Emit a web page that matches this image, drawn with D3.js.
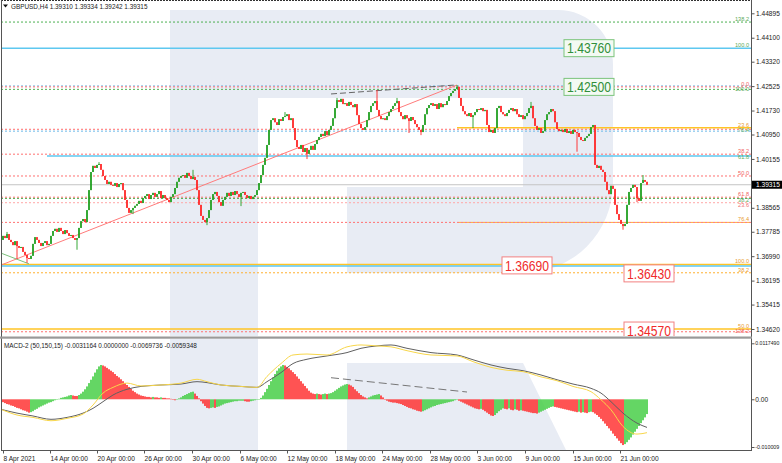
<!DOCTYPE html>
<html><head><meta charset="utf-8">
<script src="https://cdn.jsdelivr.net/npm/d3@7/dist/d3.min.js"></script>
<style>
html,body{margin:0;padding:0;background:#fff;}
svg{display:block;font-family:"Liberation Sans",Arial,sans-serif;}
</style>
</head><body>
<svg id="chart" width="782" height="463"></svg>
<script>
// ---------------- DATA ----------------
const symbolTitle = "GBPUSD,H4  1.39310 1.39334 1.39242 1.39315";
const macdTitle = "MACD-2 (50,150,15) -0.0031164 0.0000000 -0.0069736 -0.0059348";

// H4 closes, one per bar (open = previous close)
const closes = [
1.3752,1.3765,1.3758,1.3771,1.3752, 1.3745,1.3735,1.3748,1.3732,1.3726,
1.3729,1.3713,1.3703,1.3693,1.3690, 1.3700, 1.3739,1.3761,1.3752,1.3742,
1.3732,1.3742,1.3748,1.3735,1.3739, 1.3765,1.3781,1.3788,1.3778,1.3791,
1.3781,1.3771,1.3784,1.3774,1.3765, 1.3768,1.3758,1.3752,1.3758,
1.3791,1.3813,1.3820,1.3810, 1.3849,1.3914,1.3973,1.3993,
1.3986,1.3996,1.3999,1.3980, 1.3960,1.3947,1.3934,1.3941,1.3931,
1.3928,1.3937,1.3924,1.3934,1.3937, 1.3914,1.3882,1.3856, 1.3840,1.3849,1.3856,
1.3863,1.3869,1.3879,1.3872,1.3888, 1.3895,1.3901,1.3885,1.3898,1.3905,
1.3892,1.3901,1.3911,1.3888,1.3898, 1.3888,1.3882,1.3875,1.3892,1.3901,1.3921,
1.3941,1.3954,1.3960, 1.3963,1.3954,1.3970,1.3960,1.3950,1.3957,1.3947,
1.3914,1.3866,1.3830,1.3817, 1.3810,1.3823, 1.3849,1.3882,1.3901,1.3908,
1.3895,1.3875,1.3863,1.3882,1.3892,
1.3905,1.3895,1.3908,1.3898,1.3911,1.3901,1.3892,1.3905,1.3908,1.3898,1.3888,1.3895,1.3885,1.3892,1.3898,
1.3914,1.3937,1.3963,1.3996,1.4019, 1.4061,1.4110,1.4142,1.4148,
1.4135,1.4126,1.4145,1.4139,1.4152,1.4155,1.4161,1.4142,1.4148,
1.4116,1.4077,1.4054, 1.4048,1.4061,1.4038,1.4051,1.4032,1.4045,1.4058,1.4045,1.4064,
1.4077,1.4087,1.4097,1.4090,1.4106, 1.4093,1.4110,1.4123,1.4148,
1.4181,1.4207,1.4201,1.4211, 1.4194,1.4197,1.4188,1.4201,1.4191,1.4184,1.4194,
1.4158,1.4129,1.4116,1.4110,1.4119, 1.4142,1.4168,1.4188,1.4197,1.4204,
1.4175,1.4155,1.4145,1.4148,1.4142, 1.4155,1.4168,1.4178,1.4188,1.4197,1.4204,
1.4168,1.4155,1.4145,1.4158,1.4148,1.4139,1.4152,1.4142, 1.4129,1.4119,1.4110,1.4103,
1.4126,1.4161,1.4181,1.4191,1.4197, 1.4188,1.4194,1.4178,1.4197,1.4184,1.4194,1.4191,1.4204,
1.4220,1.4230,1.4237,1.4243,1.4250, 1.4214,1.4188,1.4171,
1.4161,1.4155,1.4165,1.4152,1.4158, 1.4168,1.4178,1.4175,1.4181,1.4171,1.4175,
1.4126,1.4103,1.4110, 1.4100,1.4116, 1.4181,1.4188,
1.4168,1.4161,1.4155,1.4165, 1.4175,1.4181,1.4171,1.4178,
1.4161,1.4152,1.4158,1.4145,1.4155,1.4165,1.4181, 1.4188,
1.4148,1.4123,1.4110,1.4116,1.4100,1.4106, 1.4142,1.4161,1.4168,1.4178,1.4171,
1.4135,1.4113,1.4106, 1.4110,1.4103,1.4113,1.4100,1.4106,1.4097,1.4110,1.4103,1.4100,
1.4087,1.4077,1.4074,1.4084,1.4090,1.4097, 1.4119,1.4126, 1.3996,
1.3986,1.3993,1.3980,1.3973, 1.3941,1.3914,1.3901, 1.3928,1.3918,
1.3866,1.3836,1.3817,1.3804, 1.3797,1.3804, 1.3866,1.3908,1.3921,
1.3931,1.3924, 1.3888,1.3879, 1.3937,1.3947,1.3941,1.39315
];
const firstOpen = 1.3745;

// notable wick extremes [bar, price]
const wickHighs = [[3,1.3778],[49,1.4005],[96,1.3980],[142,1.4168],[168,1.4214],[188,1.4240],
  [198,1.4214],[228,1.4256],[265,1.4201],[321,1.3963]];
const wickLows = [[8,1.3690],[13,1.3677],[38,1.3720],[66,1.3836],[103,1.3800],[120,1.3862],
  [153,1.4015],[204,1.4100],[210,1.4093],[236,1.4116],[288,1.4039],[311,1.3785],[318,1.3875]];

// MACD histogram per bar (x 1e-4)
const macdHist = [
-5,-6,-8,-10,-11,-13,-14,-16,-18,-19,-21,-23,-24,-26,-28,
-27,-25,-22,-20,-17,-15,-13,-11,-9,-7,-6,-4,-2,0,
1,3,4,5,6,8, 9,8,7,7,
9,12,16,21,27,34,41,48,56,63,69,72,
71,69,66,63,60,57,53,49,46,42,38,34,30,26,22,18,15,12,10,8,7,6,5,
5,4,5,4,4,3,4,3,3,2,2,1, -1,-2,
0,2,4,7,9,11,13,15,16, 12,7,2,
-4,-9,-14,-18,-19,-18, -17,-18,-16,-15, -13,-11,-9,-8,-7,-6,-5,
-4,-4,-3,-3,-3, -4,-5,-5,-4, -3,-2,-1,0,
3,8,15,22,30,38,46,53,60,65,69,72,
71,68,65,61,57,53,48,43,38,33,28,23,18,14,12,
11,12,11,10,11,12,11,12,13, 15,18,21,24,27,29,31,32,
31,29,26,21,17,13,9,6,4,2, 4,6,8,9,10,11,
8,4,0,-3,-5,-6,-7,-7,-8,
-9,-10,-12,-14,-16,-18,-19,-21,-22,-24,-25,-26,
-25,-23,-21,-19,-17,-15,-14,-12,-11,-10,-9,-8,-7,-6,-5,-4,-2,-1,
-3,-5,-7,-9,-11,-13,-15,-17,-19,-20,-21,-20,-22,
-25,-28,-31,-34,-35, -33,-29,-25,-22,-19,
-20,-21,-19,-22,-23,-21,-22,-24,-23,-24,-25,
-26,-27,-28,-29,-29,-30, -28,-26,-24,-22,-20,-18,-16,-15,
-16,-17,-18,-19,-20,-21,-22,-23,-24,-25,
-26,-27,-26,-28,-27,-28,-29,-27,-26,-27,
-30,-33,-37,-41,-46,-51,-56,-61,-66,-72,-77,-82,-87,-92,-96,
-94,-90,-85,-80,-74,-68,-62,-56,-50,-44,-38,-31
];
// MACD lines [bar, value x 1e-4]
const macdGray = [[0,-21],[8,-29],[16,-35],[25,-42],[33,-38],[41,-29],[46,-19],[51,-5],[56,9],[63,21],
 [70,27],[80,30],[90,32],[98,37],[103,35],[110,30],[120,27],[128,25],[133,37],[140,56],[146,75],
 [153,84],[163,91],[173,98],[180,107],[188,112],[195,114],[203,107],[215,98],[228,93],[236,83],
 [245,72],[253,65],[261,60],[270,51],[278,41],[286,32],[295,23],[300,13],[305,-5],[311,-29],[318,-50],[323,-59]];
const macdYellow = [[0,-21],[8,-33],[16,-38],[25,-45],[33,-40],[41,-31],[46,-12],[51,13],[56,25],[63,34],
 [70,28],[80,30],[90,34],[98,42],[103,37],[110,30],[120,27],[128,25],[133,48],[140,75],[146,93],
 [153,95],[163,93],[173,110],[180,114],[188,112],[195,110],[203,102],[215,93],[228,91],[236,79],
 [245,67],[253,61],[261,58],[270,47],[278,39],[286,27],[295,16],[300,-1],[305,-22],[311,-57],[318,-73],[323,-70]];

const priceTicks = [1.44895,1.44100,1.43320,1.42525,1.41730,1.40950,1.40155,1.38565,1.37785,1.36990,1.36195,1.35415,1.34620];
const lastPrice = 1.39315;
const macdTicks = [0.0117490, 0, -0.010009];
const macdTickLabels = ["0.0117490","0.00","-0.010009"];
const timeTickBars = [1,24.5,48,71.5,95.5,119.5,143,167,190.5,214.5,238,262,286,309.5];
const timeTickLabels = ["8 Apr 2021","14 Apr 00:00","20 Apr 00:00","26 Apr 00:00","30 Apr 00:00","6 May 00:00",
 "12 May 00:00","18 May 00:00","24 May 00:00","28 May 00:00","3 Jun 00:00","9 Jun 00:00","15 Jun 00:00","21 Jun 00:00"];

// Fibonacci level lines: price, label, start bar
const fibPrices = [1.4461,1.4376,1.4253,1.4250,1.4242,1.4117,1.4112,1.4106,1.4031,1.4025,1.3960,1.3891,1.3887,1.3873,1.3809,1.3809,1.3672,1.3667,1.3645,1.3462,1.3453];
const fibLabels = ["138.2","100.0","","0.0","100.0","23.6","","76.4","38.2","61.8","50.0","61.8","38.2","23.6","","76.4","100.0","","38.2","50.0","138.2"];
const fibStart  = [0,0,0,0,0,228,0,0,0,23,0,0,0,0,0,229,0,0,0,0,0];
const fibStyle  = ["gd","cs","cd","rd","gd","os","rd","cd","rd","cs","rd","rd","gd","pd","rd","od","os","cs","od","os","rd"];

// boxed price labels: price, text, anchor bar
const boxPrices = [1.4376,1.4250,1.3669,1.3643,1.3457];
const boxTexts = ["1.43760","1.42500","1.36690","1.36430","1.34570"];
const boxBars = [294,294,263,324,324];
const boxKinds = ["g","g","r","r","r"];

// trend lines [[bar,price],[bar,price]]
const trendRed = [[0,1.3670],[228,1.4256]];
const trendGreen = [[0,1.3709],[14,1.3674]];
const trendGrayDash = [[165,1.4227],[227,1.4256]];
const macdTrend = [[165,0.00453],[233,0.00153]];

// ---------------- DRAWING ----------------
const svg = d3.select("#chart");
const W = 782, axisX = 751, mainBottom = 336, macdTop = 339, macdBottom = 450.5;
const x = d3.scaleLinear().domain([0,323]).range([1,647]);
const y = d3.scaleLinear().domain([1.34392,1.45328]).range([mainBottom,0]);
const ym = d3.scaleLinear().domain([-0.010009,0.011749]).range([447,343.3]);

const defs = svg.append("defs");
defs.append("clipPath").attr("id","cm").append("rect").attr("x",1).attr("y",0).attr("width",axisX-1).attr("height",mainBottom);
defs.append("clipPath").attr("id","cd").append("rect").attr("x",1).attr("y",macdTop).attr("width",axisX-1).attr("height",macdBottom-macdTop);

const wmColor = "#e8ecf4";
// watermark main
const gm = svg.append("g").attr("clip-path","url(#cm)");
gm.append("path").attr("fill",wmColor)
  .attr("d","M170,10 H558 A55,55 0 0 1 613,65 V183 A90,90 0 0 1 523,273 H347 V187 H523 V98 H258 V340 H170 Z");
// watermark macd
const gd = svg.append("g").attr("clip-path","url(#cd)");
gd.append("rect").attr("x",170).attr("y",macdTop).attr("width",88).attr("height",120).attr("fill",wmColor);
gd.append("path").attr("fill",wmColor).attr("d","M347,363 H523 L567,452 H347 Z");

// fib lines
const styles = {
  gd:{c:"#4caf50",w:1,d:"2,2"}, cs:{c:"#5ec8f0",w:1.6,d:null}, cd:{c:"#6cb8e8",w:1,d:"2,2"},
  rd:{c:"#ff7070",w:1,d:"2,2"}, os:{c:"#ffc425",w:1.6,d:null}, od:{c:"#ffb030",w:1,d:"2,2"},
  pd:{c:"#ffa8a8",w:1,d:"2,2"}
};
const labelColor = {gd:"#5aaa5a",cs:"#5aaa5a",cd:"#5aaa5a",rd:"#f06060",os:"#e89a30",od:"#e89a30",pd:"#f07070"};
fibPrices.forEach((p,i)=>{
  const s = styles[fibStyle[i]];
  const l = gm.append("line").attr("x1",fibStart[i]===0?1:x(fibStart[i])).attr("x2",axisX)
    .attr("y1",y(p)).attr("y2",y(p)).attr("stroke",s.c).attr("stroke-width",s.w);
  if(s.d) l.attr("stroke-dasharray",s.d);
});
// labels, stacked so they don't collide
const labIdx = fibPrices.map((p,i)=>i).filter(i=>fibLabels[i]).sort((a,b)=>y(fibPrices[a])-y(fibPrices[b]));
let lastBase = -100;
labIdx.forEach(i=>{
  let b = y(fibPrices[i]) - 1.2;
  if(b - lastBase < 5.6) b = lastBase + 5.6;
  lastBase = b;
  gm.append("text").attr("x",749).attr("y",b).attr("text-anchor","end")
    .attr("font-size",5.6).attr("fill",labelColor[fibStyle[i]]).text(fibLabels[i]);
});

// current price line
gm.append("line").attr("x1",1).attr("x2",axisX).attr("y1",y(lastPrice)).attr("y2",y(lastPrice))
  .attr("stroke","#c4c4c4").attr("stroke-width",1);

// trend lines
const tl = (pts,col,dash,g,sy)=>{ const l=g.append("line").attr("x1",x(pts[0][0])).attr("y1",sy(pts[0][1]))
  .attr("x2",x(pts[1][0])).attr("y2",sy(pts[1][1])).attr("stroke",col).attr("stroke-width",1);
  if(dash) l.attr("stroke-dasharray",dash); };
tl(trendRed,"#ff7b7b",null,gm,y);
tl(trendGreen,"#7cc07c",null,gm,y);
tl(trendGrayDash,"#666",  "6,3",gm,y);

// candles
const bull="#1f9e1f", bear="#ff2424";
const cg = gm.append("g");
closes.forEach((c,i)=>{
  const o = i===0?firstOpen:closes[i-1];
  let hi=Math.max(o,c), lo=Math.min(o,c);
  wickHighs.forEach(w=>{ if(w[0]===i) hi=Math.max(hi,w[1]); });
  wickLows.forEach(w=>{ if(w[0]===i) lo=Math.min(lo,w[1]); });
  const col = c>=o?bull:bear;
  cg.append("line").attr("x1",x(i)).attr("x2",x(i)).attr("y1",y(hi)).attr("y2",y(lo)).attr("stroke",col).attr("stroke-width",0.9);
  const top=y(Math.max(o,c)), bot=y(Math.min(o,c));
  cg.append("rect").attr("x",x(i)-0.8).attr("width",1.6).attr("y",top).attr("height",Math.max(1,bot-top)).attr("fill",col);
});

// boxes
boxPrices.forEach((p,i)=>{
  const g = boxKinds[i]==="g";
  const cx = x(boxBars[i]), cy = y(p), w = 50, h = 17;
  const gg = gm.append("g");
  gg.append("rect").attr("x",cx-w/2).attr("y",cy-h/2).attr("width",w).attr("height",h)
    .attr("fill",g?"#f3faf3":"#ffffff").attr("stroke",g?"#7cc47c":"#f28080").attr("stroke-width",1);
  gg.append("text").attr("x",cx-w/2+3).attr("y",cy+5.3).attr("font-size",14.5)
    .attr("textLength",44).attr("lengthAdjust","spacingAndGlyphs")
    .attr("fill",g?"#2f8f3a":"#f02a2a").text(boxTexts[i]);
});

// MACD
const hg = gd.append("g");
let prevCol = "#ff2a2a";
macdHist.forEach((v,i)=>{
  let col = prevCol;
  if(i>0){ if(v>macdHist[i-1]) col="#3fcc3f"; else if(v<macdHist[i-1]) col="#ff2a2a"; }
  prevCol = col;
  const val = v*1e-4, y0 = ym(0), y1 = ym(val);
  hg.append("rect").attr("x",x(i)-0.8).attr("width",1.6).attr("y",Math.min(y0,y1)).attr("height",Math.max(0.5,Math.abs(y1-y0))).attr("fill",col);
});
const ln = d3.line().x(d=>x(d[0])).y(d=>ym(d[1]*1e-4)).curve(d3.curveMonotoneX);
gd.append("path").attr("d",ln(macdGray)).attr("fill","none").attr("stroke","#606060").attr("stroke-width",1);
gd.append("path").attr("d",ln(macdYellow)).attr("fill","none").attr("stroke","#f7d64a").attr("stroke-width",1);
tl(macdTrend,"#777","8,4",gd,ym);

// frames
svg.append("line").attr("x1",1).attr("x2",axisX).attr("y1",0.5).attr("y2",0.5).attr("stroke","#333").attr("stroke-dasharray","2,1");
svg.append("line").attr("x1",1.5).attr("x2",1.5).attr("y1",0).attr("y2",macdBottom).attr("stroke","#555");
svg.append("line").attr("x1",axisX+0.5).attr("x2",axisX+0.5).attr("y1",0).attr("y2",macdBottom).attr("stroke","#555");
svg.append("rect").attr("x",0).attr("y",mainBottom+0.5).attr("width",axisX+1).attr("height",2.2).attr("fill","#9a9a9a");
svg.append("line").attr("x1",1).attr("x2",axisX+1).attr("y1",macdBottom).attr("y2",macdBottom).attr("stroke","#555");

// axes
const styleAxis = g=>{ g.select(".domain").remove(); g.selectAll("line").attr("stroke","#555");
  g.selectAll("text").attr("fill","#222").attr("font-size",6.6).attr("font-family","Liberation Sans, Arial, sans-serif"); };
svg.append("g").attr("transform",`translate(${axisX+0.5},0)`)
  .call(d3.axisRight(y).tickValues(priceTicks).tickFormat(d3.format(".5f")).tickSize(3).tickPadding(1.5)).call(styleAxis);
const ma = svg.append("g").attr("transform",`translate(${axisX+0.5},0)`)
  .call(d3.axisRight(ym).tickValues(macdTicks).tickFormat((d,i)=>macdTickLabels[i]).tickSize(3).tickPadding(0.8)).call(styleAxis);
ma.selectAll("text").filter(function(){return this.textContent.length>5;})
  .attr("font-size",5.2).attr("textLength",24).attr("lengthAdjust","spacingAndGlyphs");
const xa = svg.append("g").attr("transform",`translate(0,${macdBottom})`)
  .call(d3.axisBottom(x).tickValues(timeTickBars).tickFormat((d,i)=>timeTickLabels[i]).tickSize(3).tickPadding(2.5)).call(styleAxis);
xa.selectAll("text").attr("text-anchor","start").attr("dx",0);

// last price tag
const ly = y(lastPrice);
svg.append("rect").attr("x",axisX+1).attr("y",ly-4).attr("width",W-axisX-1).attr("height",8).attr("fill","#000");
svg.append("text").attr("x",axisX+5).attr("y",ly+2.4).attr("font-size",6.6).attr("fill","#fff").text(lastPrice.toFixed(5));

// titles
svg.append("path").attr("d","M3,4.5 L8,4.5 L5.5,7.5 Z").attr("fill","#111");
svg.append("text").attr("x",11).attr("y",8.6).attr("font-size",6.4).attr("fill","#222").text(symbolTitle);
svg.append("text").attr("x",4).attr("y",347.5).attr("font-size",6.4).attr("fill","#222").text(macdTitle);
</script>
</body></html>
